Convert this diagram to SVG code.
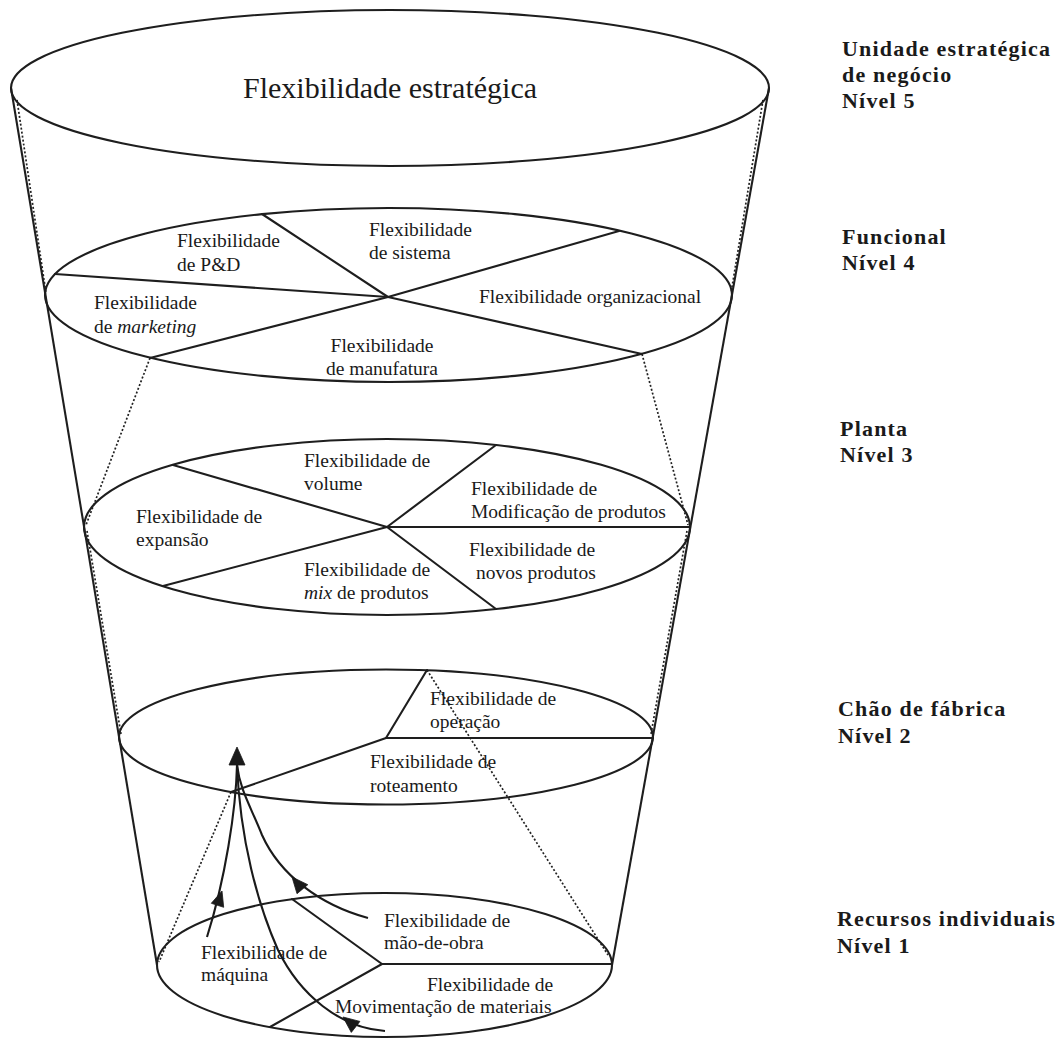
<svg xmlns="http://www.w3.org/2000/svg" width="1063" height="1059" viewBox="0 0 1063 1059">
<style>
  .ring{fill:none;stroke:#1e1e1e;stroke-width:2.1}
  .div{fill:none;stroke:#1e1e1e;stroke-width:2.1;stroke-linecap:round}
  .cone{fill:none;stroke:#1e1e1e;stroke-width:2.1}
  .dot{fill:none;stroke:#222;stroke-width:1.7;stroke-dasharray:2 2}
  .flow{fill:none;stroke:#1a1a1a;stroke-width:2.1}
  .head{fill:#1a1a1a;stroke:#1a1a1a;stroke-width:0.8;stroke-linejoin:round}
  text{font-family:"Liberation Serif","Times New Roman",serif;fill:#1a1a1a}
  .lbl{font-size:19.5px}
  .title{font-size:30px}
  .lvl{font-size:22px;font-weight:bold;letter-spacing:1.2px}
  .it{font-style:italic}
</style>
<rect width="1063" height="1059" fill="#fff"/>

<!-- cone outline, dotted projections and flow arrows -->
<g id="connectors">
  <line class="cone" x1="11" y1="88" x2="157" y2="965"/>
  <line class="cone" x1="769" y1="88" x2="612" y2="965"/>

  <line class="dot" x1="17" y1="100" x2="46" y2="293"/>
  <line class="dot" x1="763" y1="100" x2="731" y2="293"/>
  <line class="dot" x1="150" y1="358" x2="86" y2="525"/>
  <line class="dot" x1="642" y1="354" x2="688" y2="525"/>
  <line class="dot" x1="87" y1="531" x2="121" y2="734"/>
  <line class="dot" x1="687" y1="531" x2="651" y2="734"/>
  <line class="dot" x1="231" y1="792" x2="159" y2="962"/>
  <line class="dot" x1="427" y1="670" x2="608" y2="955"/>

  <path class="flow" d="M207,937 C225,880 236,810 237,765"/>
  <path class="flow" d="M385,1031 C340,1028 300,995 278,950 C258,905 240,840 237,765"/>
  <path class="flow" d="M368,918 C320,905 280,875 262,835 C250,805 240,790 237,765"/>
  <polygon class="head" points="237,747 245,765 229,765"/>
  <polygon class="head" points="222,891 223.7,907.3 211.3,903.3"/>
  <polygon class="head" points="292,877 307.8,884.7 297,893.7"/>
  <polygon class="head" points="343,1017 359.9,1021.4 351.3,1032.4"/>
</g>

<!-- Level 5: strategic business unit -->
<g id="level5">
  <ellipse class="ring" cx="390" cy="88" rx="379" ry="78"/>
  <text class="title" x="390" y="98" text-anchor="middle">Flexibilidade estratégica</text>
</g>

<!-- Level 4: functional -->
<g id="level4">
  <ellipse class="ring" cx="388.5" cy="295" rx="343.5" ry="87"/>
  <line class="div" x1="55" y1="274" x2="388" y2="297"/>
  <line class="div" x1="262" y1="214" x2="388" y2="297"/>
  <line class="div" x1="619" y1="231" x2="388" y2="297"/>
  <line class="div" x1="642" y1="354" x2="388" y2="297"/>
  <line class="div" x1="150" y1="358" x2="388" y2="297"/>
  <text class="lbl" x="177" y="247">Flexibilidade</text>
  <text class="lbl" x="177" y="271">de P&amp;D</text>
  <text class="lbl" x="369" y="236">Flexibilidade</text>
  <text class="lbl" x="369" y="259">de sistema</text>
  <text class="lbl" x="479" y="303">Flexibilidade organizacional</text>
  <text class="lbl" x="94" y="309">Flexibilidade</text>
  <text class="lbl" x="94" y="333">de <tspan class="it">marketing</tspan></text>
  <text class="lbl" x="382" y="352" text-anchor="middle">Flexibilidade</text>
  <text class="lbl" x="382" y="375" text-anchor="middle">de manufatura</text>
</g>

<!-- Level 3: plant -->
<g id="level3">
  <ellipse class="ring" cx="387" cy="527" rx="303" ry="88"/>
  <line class="div" x1="173" y1="465" x2="387" y2="527"/>
  <line class="div" x1="496" y1="445" x2="387" y2="527"/>
  <line class="div" x1="690" y1="527" x2="387" y2="527"/>
  <line class="div" x1="496" y1="609" x2="387" y2="527"/>
  <line class="div" x1="163" y1="586" x2="387" y2="527"/>
  <text class="lbl" x="304" y="467">Flexibilidade de</text>
  <text class="lbl" x="304" y="490">volume</text>
  <text class="lbl" x="471" y="495">Flexibilidade de</text>
  <text class="lbl" x="471" y="518">Modificação de produtos</text>
  <text class="lbl" x="136" y="523">Flexibilidade de</text>
  <text class="lbl" x="136" y="546">expansão</text>
  <text class="lbl" x="469" y="556">Flexibilidade de</text>
  <text class="lbl" x="476" y="579">novos produtos</text>
  <text class="lbl" x="304" y="576">Flexibilidade de</text>
  <text class="lbl" x="304" y="599"><tspan class="it">mix</tspan> de produtos</text>
</g>

<!-- Level 2: shop floor -->
<g id="level2">
  <ellipse class="ring" cx="386" cy="737" rx="267" ry="67.5"/>
  <line class="div" x1="427" y1="670" x2="386" y2="738"/>
  <line class="div" x1="653" y1="738" x2="386" y2="738"/>
  <line class="div" x1="231" y1="792" x2="386" y2="738"/>
  <text class="lbl" x="430" y="705">Flexibilidade de</text>
  <text class="lbl" x="430" y="728">operação</text>
  <text class="lbl" x="370" y="768">Flexibilidade de</text>
  <text class="lbl" x="370" y="792">roteamento</text>
</g>

<!-- Level 1: individual resources -->
<g id="level1">
  <ellipse class="ring" cx="384.5" cy="965" rx="227.5" ry="72"/>
  <line class="div" x1="612" y1="964" x2="382" y2="964"/>
  <line class="div" x1="292" y1="899" x2="382" y2="964"/>
  <line class="div" x1="270" y1="1027" x2="382" y2="964"/>
  <text class="lbl" x="384" y="927">Flexibilidade de</text>
  <text class="lbl" x="384" y="949">mão-de-obra</text>
  <text class="lbl" x="201" y="959">Flexibilidade de</text>
  <text class="lbl" x="201" y="981">máquina</text>
  <text class="lbl" x="427" y="991">Flexibilidade de</text>
  <text class="lbl" x="335" y="1013">Movimentação de materiais</text>
</g>

<!-- level captions -->
<g id="caption5">
  <text class="lvl" x="842" y="56">Unidade estratégica</text>
  <text class="lvl" x="842" y="82">de negócio</text>
  <text class="lvl" x="842" y="108">Nível 5</text>
</g>
<g id="caption4">
  <text class="lvl" x="842" y="244">Funcional</text>
  <text class="lvl" x="842" y="270">Nível 4</text>
</g>
<g id="caption3">
  <text class="lvl" x="840" y="436">Planta</text>
  <text class="lvl" x="840" y="462">Nível 3</text>
</g>
<g id="caption2">
  <text class="lvl" x="838" y="716">Chão de fábrica</text>
  <text class="lvl" x="838" y="743">Nível 2</text>
</g>
<g id="caption1">
  <text class="lvl" x="837" y="926">Recursos individuais</text>
  <text class="lvl" x="837" y="953">Nível 1</text>
</g>
</svg>
